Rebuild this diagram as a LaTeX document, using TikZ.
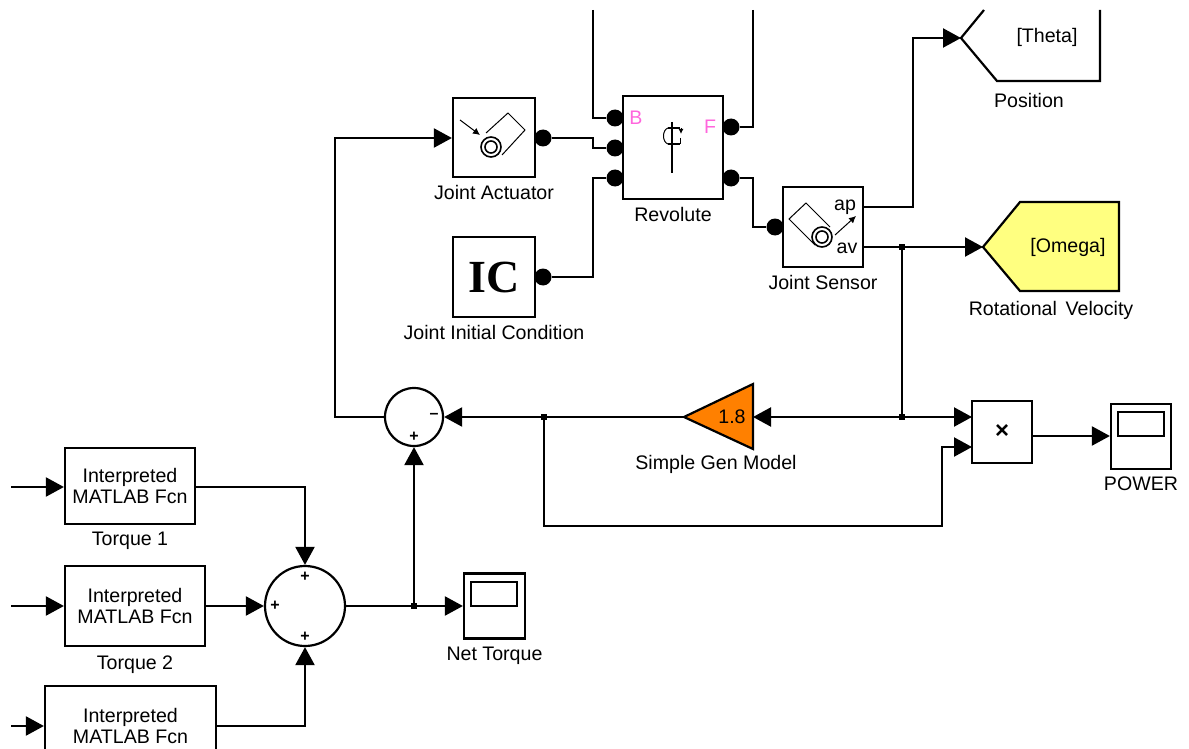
\documentclass[tikz,border=0pt]{standalone}
\usepackage{fontspec}
\setmainfont{Liberation Sans}
\newfontfamily\icfamily{Liberation Serif}
\usetikzlibrary{shapes,arrows.meta,positioning,calc}
\definecolor{gotoyellow}{RGB}{255,255,128}
\definecolor{gainorange}{RGB}{255,128,0}
\definecolor{portpink}{RGB}{255,102,221}
\tikzset{
  block/.style={rectangle, draw, line width=2.2pt, inner sep=0pt, fill=white, align=center},
  sumblock/.style={circle, draw, line width=2.2pt, inner sep=0pt, fill=white},
  port/.style={circle, fill=black, inner sep=0pt, minimum size=17pt},
  branch/.style={rectangle, fill=black, inner sep=0pt, minimum size=6pt},
  caption/.style={inner sep=0pt, font=\fontsize{19.6}{21}\selectfont},
  signtext/.style={inner sep=0pt, font=\bfseries\fontsize{16}{16}\selectfont},
  wire/.style={line width=2.2pt},
  signal/.style={line width=2.2pt, -{Triangle[length=18pt,width=19pt]}},
  thinicon/.style={line width=1pt},
  ringicon/.style={line width=1.6pt},
}
\begin{document}
\begin{tikzpicture}[x=1pt, y=-1pt, font=\fontsize{19.6}{21}\selectfont]
        \clip (0,0) rectangle (1189,749);

        % Mechanical blocks
        \node (actuator) [block, minimum width=82pt, minimum height=79pt] at (494,137.5) {};
        \node (initcond) [block, minimum width=82pt, minimum height=80pt] at (494,277) {};
        \node (revolute) [block, minimum width=100pt, minimum height=103pt] at (673,147.5) {};
        \node (sensor) [block, minimum width=80pt, minimum height=80pt] at (823,227) {};
        \node (icfont) at (494,277) {\icfamily\bfseries\fontsize{46}{46}\selectfont IC};
        \node [caption, below=7pt of actuator] (actuatorname) {Joint Actuator};
        \node [caption, below=7pt of initcond] (initcondname) {Joint Initial Condition};
        \node [caption, below=7pt of revolute] (revolutename) {Revolute};
        \node [caption, below=7pt of sensor] (sensorname) {Joint Sensor};
        \node (portb) [text=portpink] at (636,118) {B};
        \node (portf) [text=portpink] at (710,127) {F};
        \node (sensorap) at (845,207) {ap};
        \node (sensorav) at (847,248) {av};

        % Ports
        \node (actout) [port] at (543,138) {};
        \node (icout) [port] at (543,277) {};
        \node (revb) [port] at (615,118) {};
        \node (revact) [port] at (615,148) {};
        \node (revic) [port] at (615,178) {};
        \node (revf) [port] at (731,127) {};
        \node (revsense) [port] at (731,178) {};
        \node (sensorin) [port] at (775,227) {};

        % Torque side
        \node (torquea) [block, minimum width=130pt, minimum height=76pt] at (130,486) {\raisebox{-2pt}{\parbox{120pt}{\centering Interpreted\\MATLAB Fcn}}};
        \node (torqueb) [block, minimum width=140pt, minimum height=80pt] at (135,606) {\raisebox{-2pt}{\parbox{120pt}{\centering Interpreted\\MATLAB Fcn}}};
        \node (torquec) [block, minimum width=171pt, minimum height=80pt] at (130.5,726) {\raisebox{-2pt}{\parbox{120pt}{\centering Interpreted\\MATLAB Fcn}}};
        \node [caption, below=7pt of torquea] (torqueaname) {Torque 1};
        \node [caption, below=9pt of torqueb] (torquebname) {Torque 2};
        \node (sumtorque) [sumblock, minimum size=80pt] at (305,606) {};
        \node (sumctrl) [sumblock, minimum size=58pt] at (414,417) {};
        \node (nettorque) [block, minimum width=61pt, minimum height=65pt] at (494.5,606) {};
        \draw[wire] (471,582) rectangle (517,606);
        \node [caption, below=7pt of nettorque] (nettorquename) {Net Torque};

        % Signs
        \node (signa) [signtext] at (305,577) {+};
        \node (signb) [signtext] at (275,606) {+};
        \node (signc) [signtext] at (305,637) {+};
        \node (signd) [signtext] at (414,437) {+};
        \node (signe) [signtext] at (434,416) {--};

        % Gain, product, scope
        \coordinate (gaintip) at (684,417);
        \coordinate (gainin) at (753,417);
        \draw[line width=2.2pt, fill=gainorange] (gaintip) -- (753,384) -- (753,449) -- cycle;
        \node (gainval) at (732,417) {1.8};
        \node [caption] (gainname) at (716,464) {Simple Gen Model};
        \node (product) [block, minimum width=60pt, minimum height=62pt] at (1002,432) {\fontsize{24}{24}\selectfont\bfseries ×};
        \coordinate (prodtop) at (972,417);
        \coordinate (prodlow) at (972,447);
        \node (power) [block, minimum width=60pt, minimum height=65pt] at (1141,436.5) {};
        \draw[wire] (1118,412) rectangle (1164,436);
        \node [caption, below=7pt of power] (powername) {POWER};

        % Goto blocks
        \coordinate (omegatip) at (983,247);
        \draw[line width=2.2pt, fill=gotoyellow] (omegatip) -- (1020,202) -- (1119,202) -- (1119,291) -- (1020,291) -- cycle;
        \node (omega) at (1068,247) {[Omega]};
        \node [caption] (omeganame) at (1051,310) {Rotational\ \,Velocity};
        \coordinate (thetatip) at (961,38);
        \draw[line width=2.2pt] (984,10) -- (thetatip) -- (997,81) -- (1100,81) -- (1100,10);
        \node (theta) at (1047,37) {[Theta]};
        \node [caption] (thetaname) at (1029,100) {Position};

        % Free ends
        \coordinate (topb) at (593,10);
        \coordinate (topf) at (753,10);
        \coordinate (ina) at (11,487);
        \coordinate (inb) at (11,606);
        \coordinate (inc) at (11,726);

        % Branch points
        \node (branchav) [branch] at (902,247) {};
        \node (branchgain) [branch] at (902,417) {};
        \node (branchfb) [branch] at (544,417) {};
        \node (branchnet) [branch] at (414,606) {};

        % Wires
        \draw[wire] (topb) -- (topb |- revb) -- (revb);
        \draw[wire] (topf) -- (topf |- revf) -- (revf);
        \draw[wire] (actout) -- (593,138) -- (593,148) -- (revact);
        \draw[wire] (icout) -- (593,277) -- (593,178) -- (revic);
        \draw[wire] (revsense) -- (753,178) -- (753,227) -- (sensorin);

        % Arrows
        \draw[signal] (863,207) -| (913,38) -- (thetatip);
        \draw[signal] (863,247) -- (omegatip);
        \draw[signal] (branchav.center) -- (branchgain.center) -- (gainin);
        \draw[signal] (branchgain.center) -- (prodtop);
        \draw[signal] (gaintip) -- (sumctrl.east);
        \draw[signal] (branchfb.center) |- (942,526) -- (942,447) -- (prodlow);
        \draw[signal] (product.east |- 0,436) -- (power.west |- 0,436);
        \draw[signal] (sumctrl.west) -| (335,138) -- (actuator.west |- 0,138);
        \draw[signal] (ina) -- (torquea.west |- ina);
        \draw[signal] (inb) -- (torqueb.west |- inb);
        \draw[signal] (inc) -- (torquec.west |- inc);
        \draw[signal] (torquea.east |- ina) -| (sumtorque.north);
        \draw[signal] (torqueb.east) -- (sumtorque.west);
        \draw[signal] (torquec.east) -| (sumtorque.south);
        \draw[signal] (sumtorque.east) -- (nettorque.west);
        \draw[signal] (branchnet.center) -- (sumctrl.south);

        % Icons
        \draw[thinicon] (486,133) -- (508,113) -- (525,130) -- (502,155);
        \draw[ringicon] (491,147) circle (10) (491,147) circle (6);
        \draw[thinicon, -{Latex[length=7pt,width=7pt]}] (460,120) -- (480,135);
        \draw[thinicon] (815,245) -- (789,219) -- (806,203) -- (830,227);
        \draw[ringicon] (822,237) circle (10) (822,237) circle (6);
        \draw[thinicon, -{Latex[length=7pt,width=7pt]}] (835,235) -- (856,216);
        \draw[line width=2pt] (672,122) -- (672,173);
        \draw[line width=2pt] (668,128) -- (680,128) (668,144) -- (680,144);
        \draw[thinicon] (668,128) .. controls (662,130) and (662,142) .. (668,144);
        \draw[thinicon] (680,138) -- (680,144);
        \draw[thinicon, -{Latex[length=5pt,width=5pt]}] (681,128) -- (681,134);
\end{tikzpicture}
\end{document}
